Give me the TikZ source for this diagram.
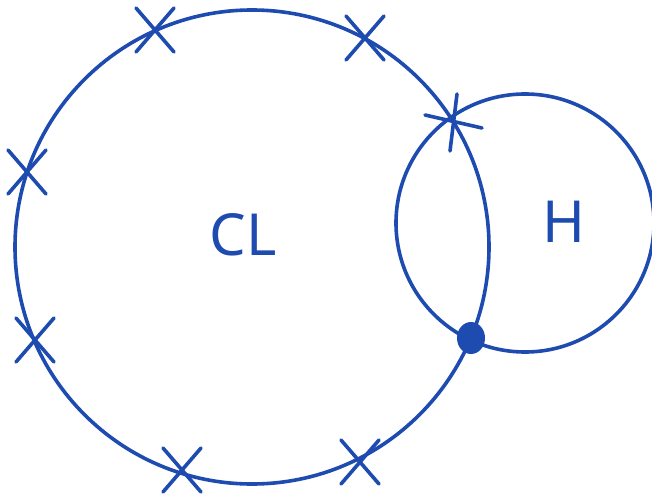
\documentclass[tikz,border=0pt]{standalone}
\usepackage{fontspec}
\setsansfont{Noto Sans}
\definecolor{ink}{HTML}{1E4BB0}
\begin{document}
\begin{tikzpicture}[x=1pt,y=-1pt,
  stroke/.style={draw=ink,line width=3.6pt,line cap=round},
  lbl/.style={text=ink,font=\sffamily\fontsize{58}{60}\selectfont,inner sep=0pt}]
\useasboundingbox (0,0) rectangle (652,500);
\node[circle,stroke,minimum size=474pt,inner sep=0pt] (cl) at (252,247) {};
\node[circle,stroke,minimum size=258pt,inner sep=0pt] (h) at (525,223) {};
\node[lbl] (tcl) at (243,235) {CL};
\node[lbl] (th) at (564,222) {H};
\fill[ink] (471,338) ellipse (14 and 16);
\coordinate (dot) at (471,338);
% crosses
\foreach \x/\y in {155/30,365/38,27/172,35/340,182/470,360/462}{
  \draw[stroke] (\x-19,\y-22) -- (\x+19,\y+22);
  \draw[stroke] (\x+19,\y-22) -- (\x-19,\y+22);
}
\draw[stroke] (425,115) -- (482,128);
\draw[stroke] (457,94) -- (450,151);
\end{tikzpicture}
\end{document}
